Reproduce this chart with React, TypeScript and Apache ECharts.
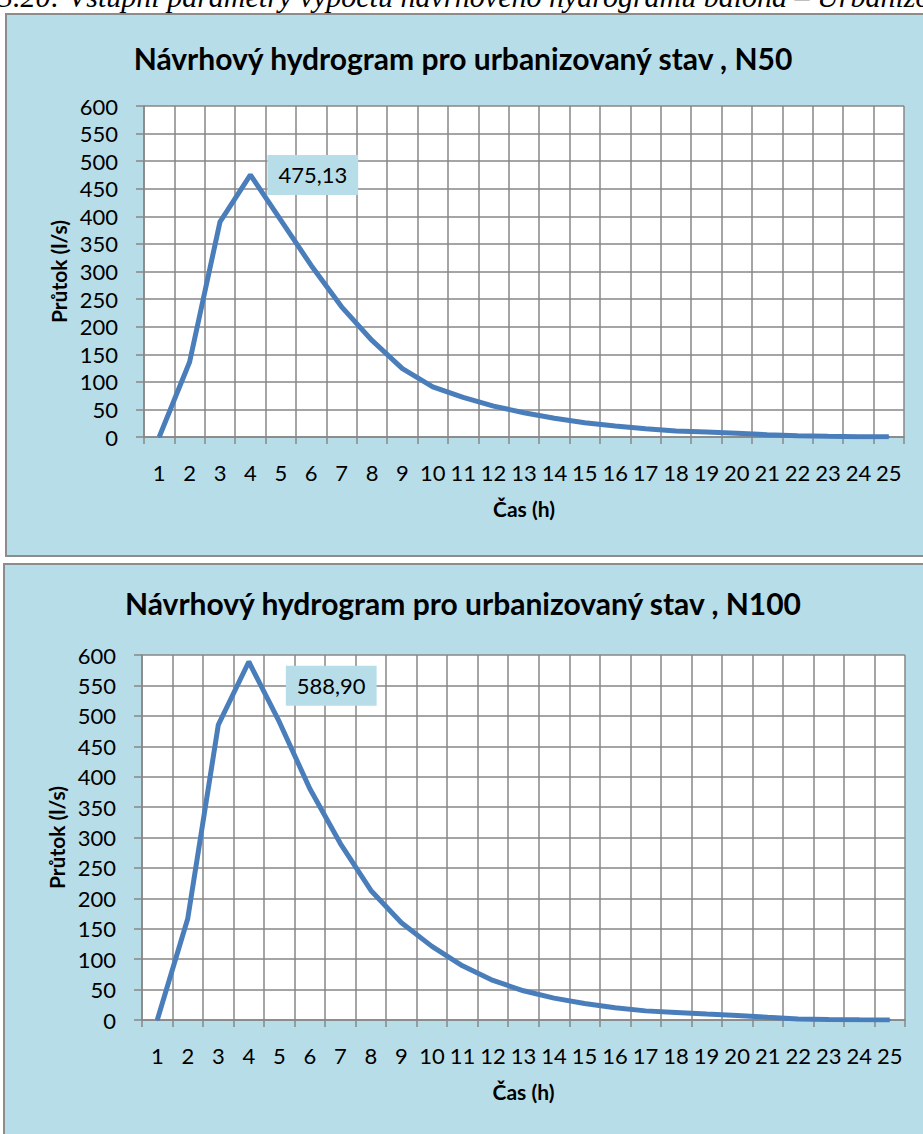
import React, { useEffect, useRef } from "react";
import * as echarts from "echarts";

// Time steps (h)
const hours = ["1", "2", "3", "4", "5", "6", "7", "8", "9", "10", "11", "12", "13", "14", "15", "16", "17", "18", "19", "20", "21", "22", "23", "24", "25"];

// Design hydrograph flows (l/s), urbanised state
const flowN50 = [0, 136, 390, 475.13, 393, 311, 236, 175, 124, 91, 72, 56, 44, 34, 26, 20, 15, 11, 9, 6.7, 4.2, 2.2, 1.2, 0.6, 0.3];
const flowN100 = [0, 167, 485, 588.9, 490, 380, 290, 213, 160, 121, 89, 65, 48, 36, 27, 20, 15, 12.5, 9.7, 7.5, 4.4, 1.8, 0.8, 0.4, 0.2];

const titleN50 = "Návrhový hydrogram pro urbanizovaný stav , N50";
const titleN100 = "Návrhový hydrogram pro urbanizovaný stav , N100";
const captionText = "3.20: Vstupní parametry výpočtu návrhového hydrogramu balona – Urbanizovaný stav";
const xName = "Čas (h)";
const yName = "Průtok (l/s)";

const FONT = "Lato, 'Open Sans', sans-serif";
const PANEL = "#b7dde8";
const GRID_LINE = "#878787";
const LINE_BLUE = "#4a7ebb";

const fmt = (v: number) => v.toFixed(2).replace(".", ",");

function peakData(values: number[], labelExtra: any) {
  const max = Math.max(...values);
  return values.map((v) =>
    v === max
      ? {
          value: v,
          label: {
            show: true,
            position: "right",
            formatter: () => fmt(v),
            backgroundColor: PANEL,
            color: "#000",
            fontFamily: FONT,
            fontSize: 22,
            lineHeight: 22,
            padding: [9, 11, 9, 11],
            ...labelExtra,
          },
        }
      : v
  );
}

function axes(gridIndex: number, yGap: number) {
  const line = { color: GRID_LINE, width: 1.5 };
  const nameStyle = { fontWeight: "bold", fontSize: 21, fontFamily: FONT, color: "#000" };
  const x = {
    type: "category",
    gridIndex,
    data: hours,
    boundaryGap: true,
    axisLine: { show: true, lineStyle: line },
    axisTick: { show: true, interval: 0, length: 7, lineStyle: line },
    axisLabel: { interval: 0, margin: 24, fontSize: 22, fontFamily: FONT, color: "#000" },
    splitLine: { show: true, interval: 0, lineStyle: line },
    name: xName,
    nameLocation: "middle",
    nameGap: 61,
    nameTextStyle: nameStyle,
  };
  const y = {
    type: "value",
    gridIndex,
    min: 0,
    max: 600,
    interval: 50,
    axisLine: { show: true, lineStyle: line },
    axisTick: { show: true, length: 8, lineStyle: line },
    axisLabel: { margin: 26, fontSize: 22, fontFamily: FONT, color: "#000" },
    splitLine: { show: true, lineStyle: line },
    name: yName,
    nameLocation: "middle",
    nameGap: yGap,
    nameTextStyle: nameStyle,
  };
  return { x, y };
}

export default function App() {
  const ref = useRef<HTMLDivElement>(null);

  useEffect(() => {
    if (!ref.current) return;
    const chart = echarts.init(ref.current, undefined, { renderer: "svg" });
    const a1 = axes(0, 72);
    const a2 = axes(1, 73);
    chart.setOption({
      animation: false,
      backgroundColor: "transparent",
      grid: [
        { left: 144, top: 106, width: 760, height: 331, show: true, backgroundColor: "#fff", borderWidth: 0 },
        { left: 142, top: 655, width: 763, height: 365, show: true, backgroundColor: "#fff", borderWidth: 0 },
      ],
      xAxis: [a1.x, a2.x],
      yAxis: [a1.y, a2.y],
      graphic: [
        {
          type: "text",
          x: -2,
          y: 11,
          style: {
            text: captionText,
            font: "italic 30px 'Liberation Serif', serif",
            fill: "#000",
            textVerticalAlign: "bottom",
          },
        },
        {
          type: "text",
          x: 463,
          y: 58,
          style: {
            text: titleN50,
            font: `bold 30px ${FONT}`,
            fill: "#000",
            textAlign: "center",
            textVerticalAlign: "middle",
          },
        },
        {
          type: "text",
          x: 463,
          y: 603,
          style: {
            text: titleN100,
            font: `bold 30px ${FONT}`,
            fill: "#000",
            textAlign: "center",
            textVerticalAlign: "middle",
          },
        },
      ],
      series: [
        {
          type: "line",
          xAxisIndex: 0,
          yAxisIndex: 0,
          data: peakData(flowN50, { distance: 16 }),
          symbol: "circle",
          symbolSize: 2,
          itemStyle: { color: LINE_BLUE },
          lineStyle: { color: LINE_BLUE, width: 5 },
          silent: true,
        },
        {
          type: "line",
          xAxisIndex: 1,
          yAxisIndex: 1,
          data: peakData(flowN100, { distance: 36, offset: [0, 24] }),
          symbol: "circle",
          symbolSize: 2,
          itemStyle: { color: LINE_BLUE },
          lineStyle: { color: LINE_BLUE, width: 5 },
          silent: true,
        },
      ],
    });
    return () => chart.dispose();
  }, []);

  return (
    <div style={{ position: "absolute", left: 0, top: 0, width: 923, height: 1134, overflow: "hidden", background: "#fff" }}>
      <div style={{ position: "absolute", left: 5, top: 13, width: 940, height: 540, background: PANEL, border: "2px solid #8c8c8c" }} />
      <div style={{ position: "absolute", left: 3, top: 563, width: 940, height: 600, background: PANEL, border: "2px solid #8c8c8c" }} />
      <div ref={ref} style={{ position: "absolute", left: 0, top: 0, width: 923, height: 1134 }} />
    </div>
  );
}
